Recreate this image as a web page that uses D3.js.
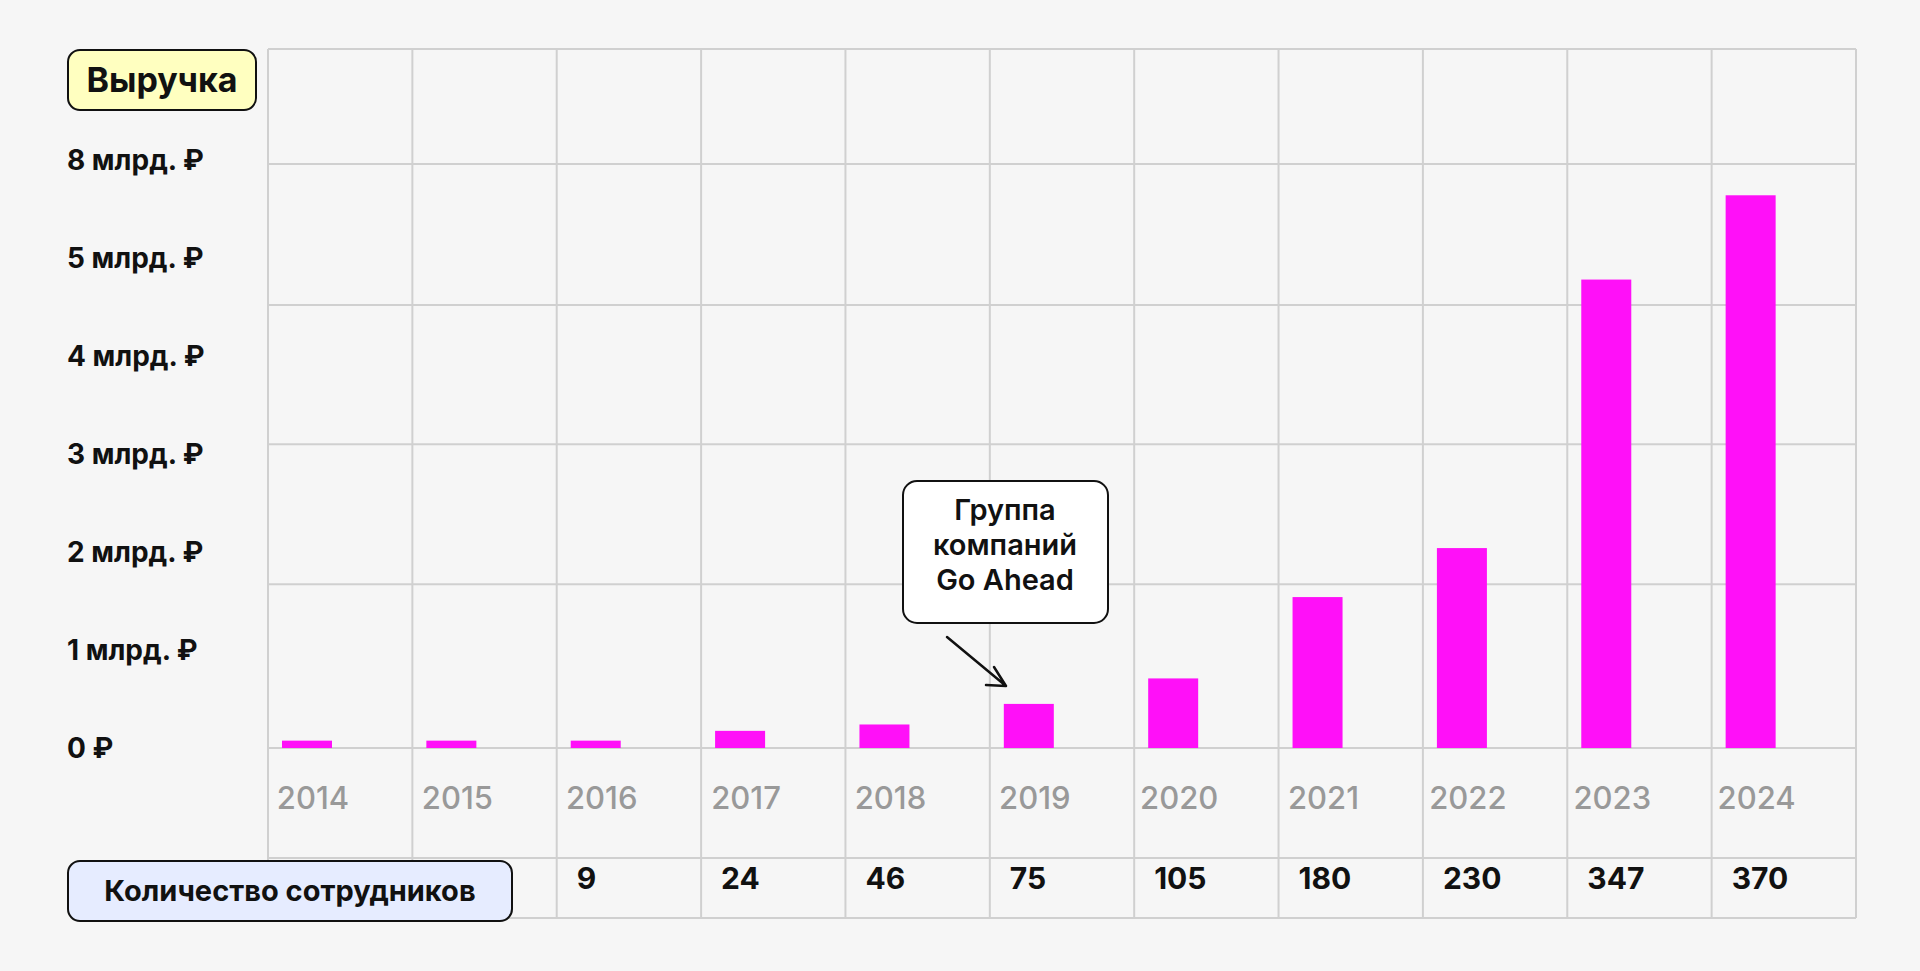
<!DOCTYPE html>
<html><head><meta charset="utf-8">
<script src="https://cdn.jsdelivr.net/npm/d3@7"></script>
<style>body{margin:0;background:#f6f6f6;font-family:Inter,"Noto Sans",sans-serif}</style>
</head><body><svg id="c" width="1920" height="971"></svg>
<script>
const years = ["2014","2015","2016","2017","2018","2019","2020","2021","2022","2023","2024"];
const revenue = [0.075,0.075,0.075,0.175,0.24,0.45,0.71,1.54,2.04,4.78,5.64]; // axis position units
const employees = [null,null,9,24,46,75,105,180,230,347,370];
const tickLabels = ["0 ₽","1 млрд. ₽","2 млрд. ₽","3 млрд. ₽","4 млрд. ₽","5 млрд. ₽","8 млрд. ₽"];
const gridValues = [0,1.67,3.1,4.52,5.96];

const svg = d3.select("#c");
const L=268, R=1856, T=49, B=748, ROW=858, BOT=918;
const x = d3.scaleBand().domain(years).range([L,R]);
const y = d3.scaleLinear().domain([0,6]).range([B,B-6*98]);
const g = svg.append("g");
const grid="#d0d0d0";
gridValues.forEach(v=>g.append("line").attr("x1",L).attr("x2",R).attr("y1",y(v)).attr("y2",y(v)).attr("stroke",grid).attr("stroke-width",2));
[T,ROW,BOT].forEach(v=>g.append("line").attr("x1",L).attr("x2",R).attr("y1",v).attr("y2",v).attr("stroke",grid).attr("stroke-width",2));
years.concat(["end"]).forEach((d,i)=>{const xv = i<years.length? x(d): R;
  g.append("line").attr("x1",xv).attr("x2",xv).attr("y1",T).attr("y2",BOT).attr("stroke",grid).attr("stroke-width",2);});
g.selectAll("rect.bar").data(years).join("rect").attr("x",d=>x(d)+14).attr("width",50)
 .attr("y",(d,i)=>y(revenue[i])).attr("height",(d,i)=>B-y(revenue[i])).attr("fill","#ff10f8");
g.selectAll("text.yl").data(tickLabels).join("text").attr("x",67).attr("y",(d,i)=>y(i)+10)
 .attr("font-size",28).attr("font-weight",700).attr("fill","#111").text(d=>d);
g.selectAll("text.yr").data(years).join("text").attr("x",d=>x(d)+45).attr("y",809).attr("text-anchor","middle")
 .attr("font-size",31).attr("font-weight",500).attr("fill","#999").text(d=>d);
g.selectAll("text.em").data(years).join("text").attr("x",d=>x(d)+20).attr("y",889)
 .attr("font-size",30).attr("font-weight",700).attr("fill","#111").text((d,i)=>employees[i]==null?"":employees[i]);
function box(x0,y0,w,h,fill,txt,fs){
  g.append("rect").attr("x",x0).attr("y",y0).attr("width",w).attr("height",h).attr("rx",12).attr("fill",fill).attr("stroke","#111").attr("stroke-width",2);
  g.append("text").attr("x",x0+w/2).attr("y",y0+h/2+fs*0.36).attr("text-anchor","middle").attr("font-size",fs).attr("font-weight",700).attr("fill","#111").text(txt);
}
box(68,50,188,60,"#ffffc0","Выручка",34);
box(68,861,444,60,"#e6ecff","Количество сотрудников",29);
g.append("rect").attr("x",903).attr("y",481).attr("width",205).attr("height",142).attr("rx",14).attr("fill","#fff").attr("stroke","#111").attr("stroke-width",2);
["Группа","компаний","Go Ahead"].forEach((t,i)=>g.append("text").attr("x",1005).attr("y",520+i*35).attr("text-anchor","middle")
 .attr("font-size",29).attr("font-weight",600).attr("fill","#111").text(t));
g.append("path").attr("d","M947,637 L1006,686 M1006,686 L994,667 M1006,686 L986,685").attr("stroke","#111").attr("stroke-width",2.5).attr("fill","none").attr("stroke-linecap","round");
</script></body></html>
